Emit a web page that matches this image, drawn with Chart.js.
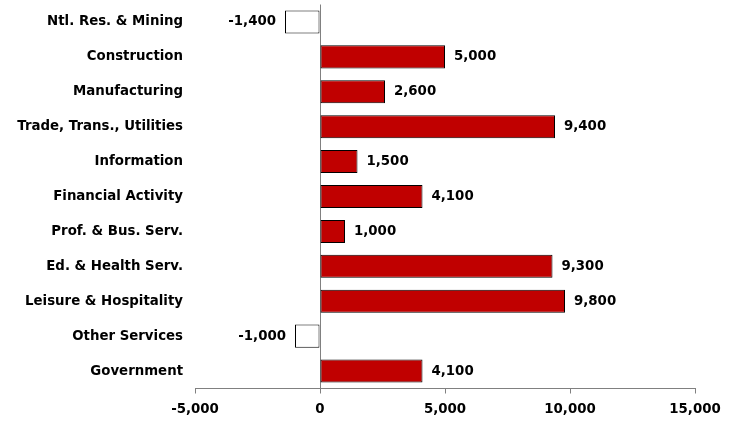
<!DOCTYPE html>
<html>
<head>
<meta charset="utf-8">
<script src="https://cdn.jsdelivr.net/npm/chart.js@4"></script>
<style>
  html, body { margin: 0; padding: 0; background: #fff; }
  #wrap { width: 733px; height: 423px; }
</style>
</head>
<body>
<div id="wrap"><canvas id="myChart" width="733" height="423"></canvas></div>
<script>
let categories = ['Ntl. Res. & Mining', 'Construction', 'Manufacturing', 'Trade, Trans., Utilities',
    'Information', 'Financial Activity', 'Prof. & Bus. Serv.', 'Ed. & Health Serv.',
    'Leisure & Hospitality', 'Other Services', 'Government'];
let jobChange = [-1400, 5000, 2600, 9400, 1500, 4100, 1000, 9300, 9800, -1000, 4100];
let xTicks = [-5000, 0, 5000, 10000, 15000];

let fontFamily = "Verdana, 'DejaVu Sans', sans-serif";
let fontSize = 13.33;

// writes the value next to the end of each bar
let valueLabels = {
    id: 'valueLabels',
    afterDatasetsDraw(chart) {
        let ctx = chart.ctx;
        let meta = chart.getDatasetMeta(0);
        ctx.save();
        ctx.font = 'bold ' + fontSize + 'px ' + fontFamily;
        ctx.fillStyle = '#000';
        ctx.textBaseline = 'middle';
        meta.data.forEach((bar, i) => {
            let v = jobChange[i];
            let txt = v.toLocaleString('en-US');
            if (v < 0) {
                ctx.textAlign = 'right';
                ctx.fillText(txt, bar.x - 9, bar.y);
            } else {
                ctx.textAlign = 'left';
                ctx.fillText(txt, bar.x + 9, bar.y);
            }
        });
        ctx.restore();
    }
};

let myChart = document.getElementById('myChart').getContext('2d');

let jobsChart = new Chart(myChart, {
    type: 'bar',
    data: {
        labels: categories,
        datasets: [{
            data: jobChange,
            backgroundColor: jobChange.map(v => v < 0 ? '#ffffff' : '#c00000'),
            borderColor: '#000000',
            borderWidth: 1,
            borderSkipped: false,
            barPercentage: 0.66,
            categoryPercentage: 1
        }]
    },
    options: {
        indexAxis: 'y',
        responsive: false,
        animation: false,
        layout: { padding: { top: 4.5, right: 38, left: 0, bottom: 0 } },
        plugins: {
            legend: { display: false },
            tooltip: { enabled: false }
        },
        scales: {
            x: {
                min: -5000,
                max: 15000,
                afterBuildTicks: scale => { scale.ticks = xTicks.map(v => ({ value: v })); },
                afterFit: scale => { scale.height = 34.5; },
                border: { display: true, color: '#808080', width: 1 },
                grid: {
                    color: c => (c.tick && c.tick.value === 0) ? '#808080' : 'rgba(0,0,0,0)',
                    tickColor: '#808080',
                    tickLength: 5,
                    drawTicks: true
                },
                ticks: {
                    padding: 8,
                    color: '#000',
                    font: { family: fontFamily, size: fontSize, weight: 'bold' },
                    callback: v => v.toLocaleString('en-US')
                }
            },
            y: {
                afterFit: scale => {
                    scale.width = 195;
                    scale.paddingTop = 0;
                    scale.paddingBottom = 0;
                },
                border: { display: false },
                grid: { display: false, drawTicks: false },
                ticks: {
                    padding: 12,
                    color: '#000',
                    font: { family: fontFamily, size: fontSize, weight: 'bold' }
                }
            }
        }
    },
    plugins: [valueLabels]
});
</script>
</body>
</html>
